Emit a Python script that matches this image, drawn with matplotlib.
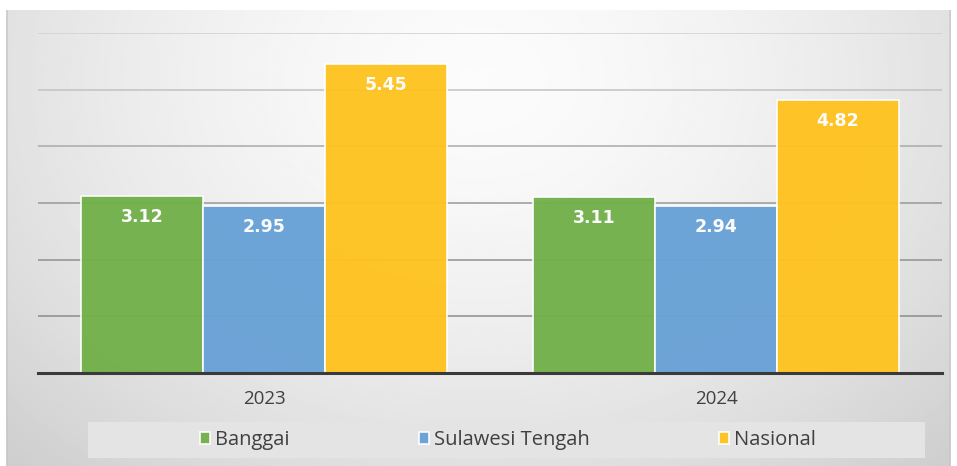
import matplotlib

matplotlib.use("Agg")
import matplotlib.pyplot as plt
import numpy as np
from matplotlib.patches import FancyBboxPatch, Rectangle

# --- data ---
years = ["2023", "2024"]
series = ["Banggai", "Sulawesi Tengah", "Nasional"]
banggai = [3.12, 3.11]
sulteng = [2.95, 2.94]
nasional = [5.45, 4.82]
values = [banggai, sulteng, nasional]
colors = ["#72b04a", "#68a1d6", "#ffc31f"]

W, H = 957, 466
fig = plt.figure(figsize=(W / 100, H / 100), dpi=100)
fig.patch.set_facecolor("white")


def px(x0, y0, x1, y1):
    """pixel box (top-left origin) -> figure fraction rect"""
    return [x0 / W, 1 - y1 / H, (x1 - x0) / W, (y1 - y0) / H]


# gradient chart background
bg = fig.add_axes(px(5, 10, 952, 470), zorder=0)
yy, xx = np.mgrid[0:1:200j, 0:1:400j]
r = np.sqrt(((xx - 0.5) / 0.62) ** 2 + ((yy - 0.15) / 1.0) ** 2)
shade = 0.985 - 0.14 * np.clip(r, 0, 1.2) ** 1.6
bg.imshow(shade, cmap="gray", vmin=0, vmax=1, aspect="auto",
          extent=[0, 1, 1, 0], interpolation="bilinear")
clip = FancyBboxPatch((0.002, 0.002), 0.996, 1.2, boxstyle="round,pad=0,rounding_size=0.008",
                      transform=bg.transAxes, facecolor="none", edgecolor="#c4c4c4", lw=1.0)
bg.add_patch(clip)
bg.images[0].set_clip_path(clip)
bg.set_xlim(0, 1)
bg.set_ylim(1, 0)
bg.axis("off")

ax = fig.add_axes(px(38, 33, 942, 373), zorder=2)
ax.set_facecolor("none")

x = np.arange(len(years))
width = 0.27
for i, (name, vals, c) in enumerate(zip(series, values, colors)):
    pos = x + (i - 1) * width
    bars = ax.bar(pos, vals, width, color=c, edgecolor="white", linewidth=1.2,
                  label=name, zorder=3, alpha=0.96)
    for b, v in zip(bars, vals):
        ax.annotate(f"{v:.2f}", (b.get_x() + b.get_width() / 2, v),
                    xytext=(0, -21), textcoords="offset pixels",
                    ha="center", va="center", color="#fbfbfb",
                    fontsize=12.5, fontweight="bold", family="DejaVu Sans", zorder=4)

ax.set_xlim(-0.5, 1.5)
ax.set_ylim(0, 6)
ax.set_yticks(range(1, 7))
ax.yaxis.grid(True, lw=1.1, zorder=1)
grid_cols = ["#8c8c8c", "#909090", "#999999", "#aaaaaa", "#c2c2c2", "#d0d0d0"]
for gl, gc in zip(ax.get_ygridlines(), grid_cols):
    gl.set_color(gc)
ax.tick_params(axis="y", left=False, labelleft=False)
ax.set_xticks(x)
ax.set_xticklabels(years, family="Open Sans", fontsize=13.5, color="#404040")
ax.tick_params(axis="x", length=0, pad=12)
for s in ["top", "right", "left"]:
    ax.spines[s].set_visible(False)
ax.spines["bottom"].set_color("#3a3a3a")
ax.spines["bottom"].set_linewidth(2.2)
ax.spines["bottom"].set_zorder(5)

# legend band
fig.patches.append(Rectangle((88 / W, 1 - 458 / H), (925 - 88) / W, 36 / H,
                             transform=fig.transFigure, facecolor="#e4e4e4",
                             edgecolor="none", zorder=1))
leg = fig.legend(loc="center", bbox_to_anchor=(508 / W, 1 - 440 / H), ncol=3,
                 frameon=False, prop={"family": "Open Sans", "size": 14.5},
                 handlelength=0.5, handleheight=0.5, handletextpad=0.25,
                 columnspacing=6.4)
for t in leg.get_texts():
    t.set_color("#404040")
leg.set_zorder(3)

fig.savefig("out.png", dpi=100)
